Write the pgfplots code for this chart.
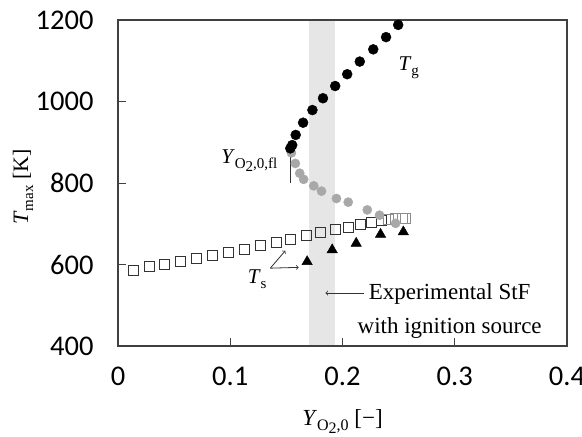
\documentclass[border=0pt]{standalone}
\usepackage{pgfplots}
\pgfplotsset{compat=1.18}
\usepackage{fontspec}
\setmainfont{Liberation Serif}
\newfontfamily\tickfont{Carlito}
\definecolor{axgray}{HTML}{404040}
\definecolor{ptgray}{HTML}{A8A8A8}
\definecolor{band}{HTML}{E6E6E6}
\begin{document}
\begin{tikzpicture}
\useasboundingbox (0,0) rectangle (582pt,437pt);
\begin{axis}[
  at={(118pt,91pt)}, anchor=south west,
  scale only axis, width=449pt, height=326pt,
  xmin=0, xmax=0.4, ymin=400, ymax=1200,
  xtick={0,0.1,0.2,0.3,0.4}, ytick={400,600,800,1000,1200},
  xticklabels={0,0.1,0.2,0.3,0.4},
  yticklabels={400,600,800,1000,1200},
  tick align=inside, xtick pos=bottom, ytick pos=left,
  major tick length=8pt,
  axis line style={draw=axgray, line width=1.2pt},
  tick style={draw=axgray, line width=1pt},
  ticklabel style={font=\fontsize{28.5}{30}\selectfont\tickfont},
  xticklabel style={yshift=-17pt},
  yticklabel style={xshift=-21pt},
  axis on top, clip=false,
]
\fill[band] (axis cs:0.17,400) rectangle (axis cs:0.193,1200);

% surface temperature (open squares)
\addplot[only marks, mark=square, mark size=5pt, mark options={draw=black!80, line width=1pt, fill=white}] coordinates {
(0.0137,586) (0.0277,595) (0.0411,601) (0.0556,607) (0.0699,615) (0.0846,623)
(0.0985,629) (0.1129,638) (0.1271,646) (0.1409,654) (0.1536,662) (0.1679,671)
(0.1804,678) (0.1938,685) (0.2056,690) (0.2161,697) (0.2256,703) (0.2346,707)
};
\addplot[only marks, mark=square, mark size=5pt, mark options={draw=black!45, line width=1pt, fill=white}] coordinates {
(0.2413,711) (0.2473,713) (0.2533,713) (0.2563,713)
};
% gray circles
\addplot[only marks, mark=*, mark size=4.6pt, mark options={draw=ptgray, fill=ptgray}] coordinates {
(0.1545,874) (0.158,848) (0.1619,824) (0.1654,809) (0.1744,793) (0.1813,780)
(0.1946,762) (0.2051,753) (0.2221,734) (0.233,721) (0.2473,701)
};
% gas temperature (black circles)
\addplot[only marks, mark=*, mark size=5pt, mark options={draw=black, fill=black}] coordinates {
(0.1535,885) (0.1552,893) (0.1583,918) (0.1649,948) (0.1732,979) (0.1826,1008)
(0.1935,1038) (0.2042,1067) (0.2154,1098) (0.2274,1128) (0.2388,1158) (0.2496,1188)
};
% triangles
\addplot[only marks, mark=triangle*, mark size=6pt, mark options={draw=black, fill=black}] coordinates {
(0.1685,607) (0.1908,636) (0.2122,652) (0.2339,674) (0.2542,680)
};

% annotations
\node[font=\fontsize{21}{24}\selectfont] at (axis cs:0.259,1083) {\itshape T\/\upshape\raisebox{-5pt}{\fontsize{15}{15}\selectfont g}};
\node[font=\fontsize{21}{24}\selectfont] at (axis cs:0.117,856) {\itshape Y\/\upshape\raisebox{-5pt}{\fontsize{15}{15}\selectfont O\raisebox{-3pt}{2},0,fl}};
\draw[->, line width=0.8pt, black!80] (axis cs:0.1536,800) -- (axis cs:0.1536,880);
\node[font=\fontsize{21}{24}\selectfont] at (axis cs:0.124,564) {\itshape T\/\upshape\raisebox{-5pt}{\fontsize{15}{15}\selectfont s}};
\draw[->, line width=0.8pt, black!80] (axis cs:0.1357,591) -- (axis cs:0.1491,634);
\draw[->, line width=0.8pt, black!80] (axis cs:0.1357,591) -- (axis cs:0.161,593);
\node[font=\fontsize{23}{34}\selectfont, align=center] at (axis cs:0.2955,485) {Experimental StF\\with ignition source};
\draw[->, line width=0.8pt, black!80] (axis cs:0.2188,530) -- (axis cs:0.1848,530);

% axis labels
\node[font=\fontsize{23}{26}\selectfont] at ([yshift=-76pt]rel axis cs:0.5,0) {\itshape Y\/\upshape\raisebox{-5pt}{\fontsize{16}{16}\selectfont O\raisebox{-3pt}{2},0} [−]};
\node[font=\fontsize{22}{24}\selectfont, rotate=90] at ([xshift=-95pt,yshift=-4pt]rel axis cs:0,0.5) {\itshape T\/\upshape\raisebox{-5pt}{\fontsize{15}{15}\selectfont max} [K]};
\end{axis}
\end{tikzpicture}
\end{document}
